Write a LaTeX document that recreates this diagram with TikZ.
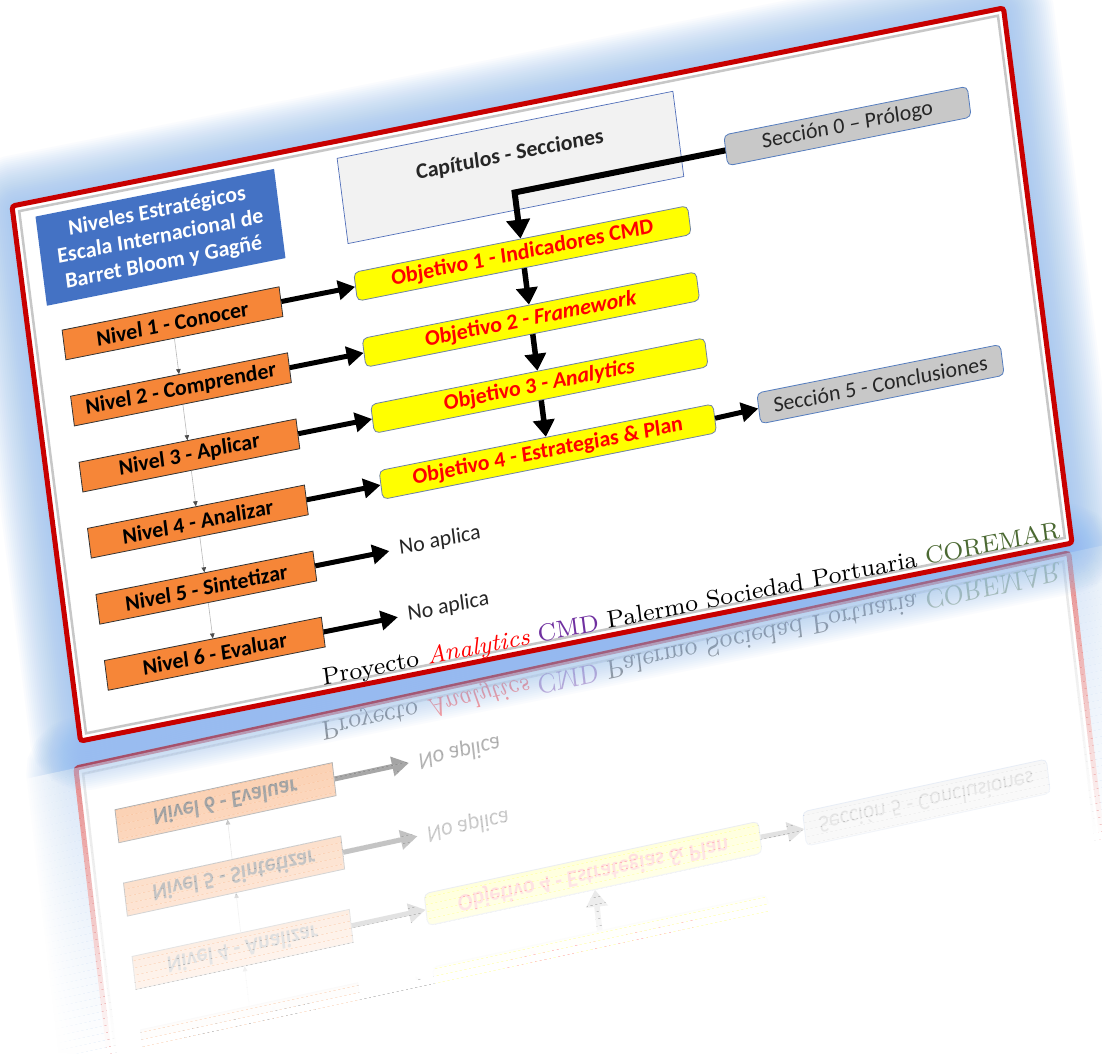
\documentclass[tikz,border=0pt]{standalone}
\usepackage{fontspec}
\usepackage{graphicx}
\usetikzlibrary{arrows.meta}
\newfontfamily\cfont{Carlito}
\newfontfamily\footfont{lmroman8-regular.otf}[ItalicFont=lmroman8-italic.otf]

\definecolor{framered}{RGB}{200,0,0}
\definecolor{glowblue}{RGB}{140,185,240}
\definecolor{boxblue}{HTML}{4472C4}
\definecolor{nivorange}{RGB}{246,134,56}
\definecolor{objyellow}{RGB}{255,255,0}
\definecolor{objedge}{RGB}{110,130,165}
\definecolor{secgray}{RGB}{200,200,200}
\definecolor{secedge}{RGB}{85,125,190}
\definecolor{capfill}{RGB}{242,242,242}
\definecolor{capedge}{RGB}{80,110,185}
\definecolor{cmdpurple}{HTML}{7030A0}
\definecolor{coregreen}{RGB}{75,105,50}

\tikzset{
  bigfont/.style={font=\cfont\bfseries\fontsize{22pt}{26pt}\selectfont},
  regfont/.style={font=\cfont\fontsize{22pt}{26pt}\selectfont},
  nivel/.style={bigfont, draw=black!80, line width=0.8pt, fill=nivorange,
    minimum width=221pt, minimum height=30pt, inner sep=0pt, transform shape},
  objbox/.style={bigfont, text=red, draw=objedge, line width=0.8pt, fill=objyellow,
    rounded corners=5pt, minimum width=340pt, minimum height=29pt, inner sep=0pt,
    transform shape},
  secbox/.style={regfont, text=black!85, draw=secedge, line width=0.8pt, fill=secgray,
    rounded corners=5pt, minimum width=248pt, minimum height=31pt, inner sep=0pt,
    transform shape},
  capbox/.style={draw=capedge, line width=0.7pt, fill=capfill,
    minimum width=342pt, minimum height=86pt, inner sep=0pt, transform shape},
  captext/.style={bigfont, text=black!85, inner sep=0pt, transform shape},
  bluebox/.style={bigfont, text=white, fill=boxblue, align=center,
    minimum width=243pt, minimum height=90pt, inner sep=0pt, transform shape},
  natext/.style={regfont, text=black!85, anchor=west, inner sep=0pt, transform shape},
  bigarrow/.style={line width=5pt, -{Triangle[length=17pt,width=19pt]}},
  downarrow/.style={line width=5.5pt, -{Triangle[length=17pt,width=21pt]}},
  feedarrow/.style={line width=6pt, line join=miter, -{Triangle[length=19pt,width=23pt]}},
  thinarrow/.style={draw=gray!55, line width=0.6pt,
    -{Triangle[length=5pt,width=4.5pt,color=black!70]}},
  sheet/.style={cm={0.98168,0.19604,-0.12685,0.99074,(12,-206)}},
  mirrored/.style={cm={0.983,0.213,0.128,-1.1,(145,-1362)}},
}

% soft blue halo around the sheet
\newcommand\drawhalo{%
  \foreach \w in {4,8,...,100}
    \draw[glowblue, line width=\w pt, opacity=0.045, rounded corners=6pt]
      (0,0) rectangle (1010,-540);
}

% the sheet with its diagram; #1 prefixes the node names
\newcommand\drawcard[1]{%
  \fill[white] (0,0) rectangle (1010,-540);
  \draw[black!22, line width=2.5pt] (6.5,-6.5) rectangle (1003.5,-533.5);
  \draw[framered, line width=5pt, rounded corners=3pt] (0,0) rectangle (1010,-540);
  % header boxes
  \node[bluebox] (#1blue) at (143.5,-60)
    {Niveles Estratégicos\\Escala Internacional de\\Barret Bloom y Gagñé};
  \node[capbox] (#1cap) at (500,-60) {};
  \node[captext] (#1capt) at (501,-48) {Capítulos - Secciones};
  \node[secbox] (#1s0) at (840,-85.5) {Sección 0 – Prólogo};
  % levels
  \foreach \k/\lab in {1/Conocer,2/Comprender,3/Aplicar,4/Analizar,5/Sintetizar,6/Evaluar}
    \node[nivel] (#1n\k) at (144.5,{-147-66.7*(\k-1)}) {Nivel \k{} - \lab};
  % objectives
  \node[objbox] (#1o1) at (501,-147) {Objetivo 1 - Indicadores CMD};
  \node[objbox] (#1o2) at (501,-213.7) {Objetivo 2 - \textit{Framework}};
  \node[objbox] (#1o3) at (501,-280.4) {Objetivo 3 - \textit{Analytics}};
  \node[objbox] (#1o4) at (501,-347.1) {Objetivo 4 - Estrategias \& Plan};
  \node[secbox] (#1s5) at (840,-346) {Sección 5 - Conclusiones};
  \node[natext] (#1na5) at (341,-413.8) {No aplica};
  \node[natext] (#1na6) at (341,-480.5) {No aplica};
  % footer line
  \node[anchor=base west, inner sep=0pt, transform shape] (#1foot) at (248,-533)
    {\resizebox{751pt}{!}{\footfont\fontsize{25.6pt}{30pt}\selectfont Proyecto
      \textcolor{red}{\textit{Analytics}} \textcolor{cmdpurple}{CMD} Palermo Sociedad
      Portuaria \textcolor{coregreen}{COREMAR}}};
  % connectors
  \foreach \k in {1,...,4}
    \draw[bigarrow] (#1n\k.east) -- (#1o\k.west);
  \foreach \k in {5,6}
    \draw[bigarrow, shorten >=10pt] (#1n\k.east) -- (#1na\k.west);
  \foreach \a/\b in {1/2,2/3,3/4}
    \draw[downarrow] (#1o\a.south) -- (#1o\b.north);
  \foreach \a/\b in {1/2,2/3,3/4,4/5,5/6}
    \draw[thinarrow] (#1n\a.south) -- (#1n\b.north);
  \coordinate (#1bend) at (501,-85.5);
  \draw[feedarrow] (#1s0.west) -- (#1bend) -- (#1o1.north);
  \draw[bigarrow] (#1o4.east) -- (#1s5.west);
}

\begin{document}
\begin{tikzpicture}[x=1pt,y=1pt]
  \useasboundingbox (0,0) rectangle (1102,-1053);
  \fill[white] (0,0) rectangle (1102,-1053);
  % mirrored copy under the sheet, fading out with distance
  \begin{scope}[mirrored]
    \begin{scope}
      \clip (-160,-275) rectangle (1170,-600);
      \drawhalo
      \drawcard{r}
    \end{scope}
    \foreach \i in {0,...,39} {
      \pgfmathsetmacro\op{0.55+0.45*\i/39}
      \fill[white, opacity=\op] (-160,{-540+6.5*\i}) rectangle (1170,{-540+6.5*(\i+1)});
    }
    \fill[white] (-160,-280) rectangle (1170,300);
  \end{scope}
  % the sheet itself
  \begin{scope}[sheet]
    \drawhalo
    \drawcard{m}
  \end{scope}
\end{tikzpicture}
\end{document}
